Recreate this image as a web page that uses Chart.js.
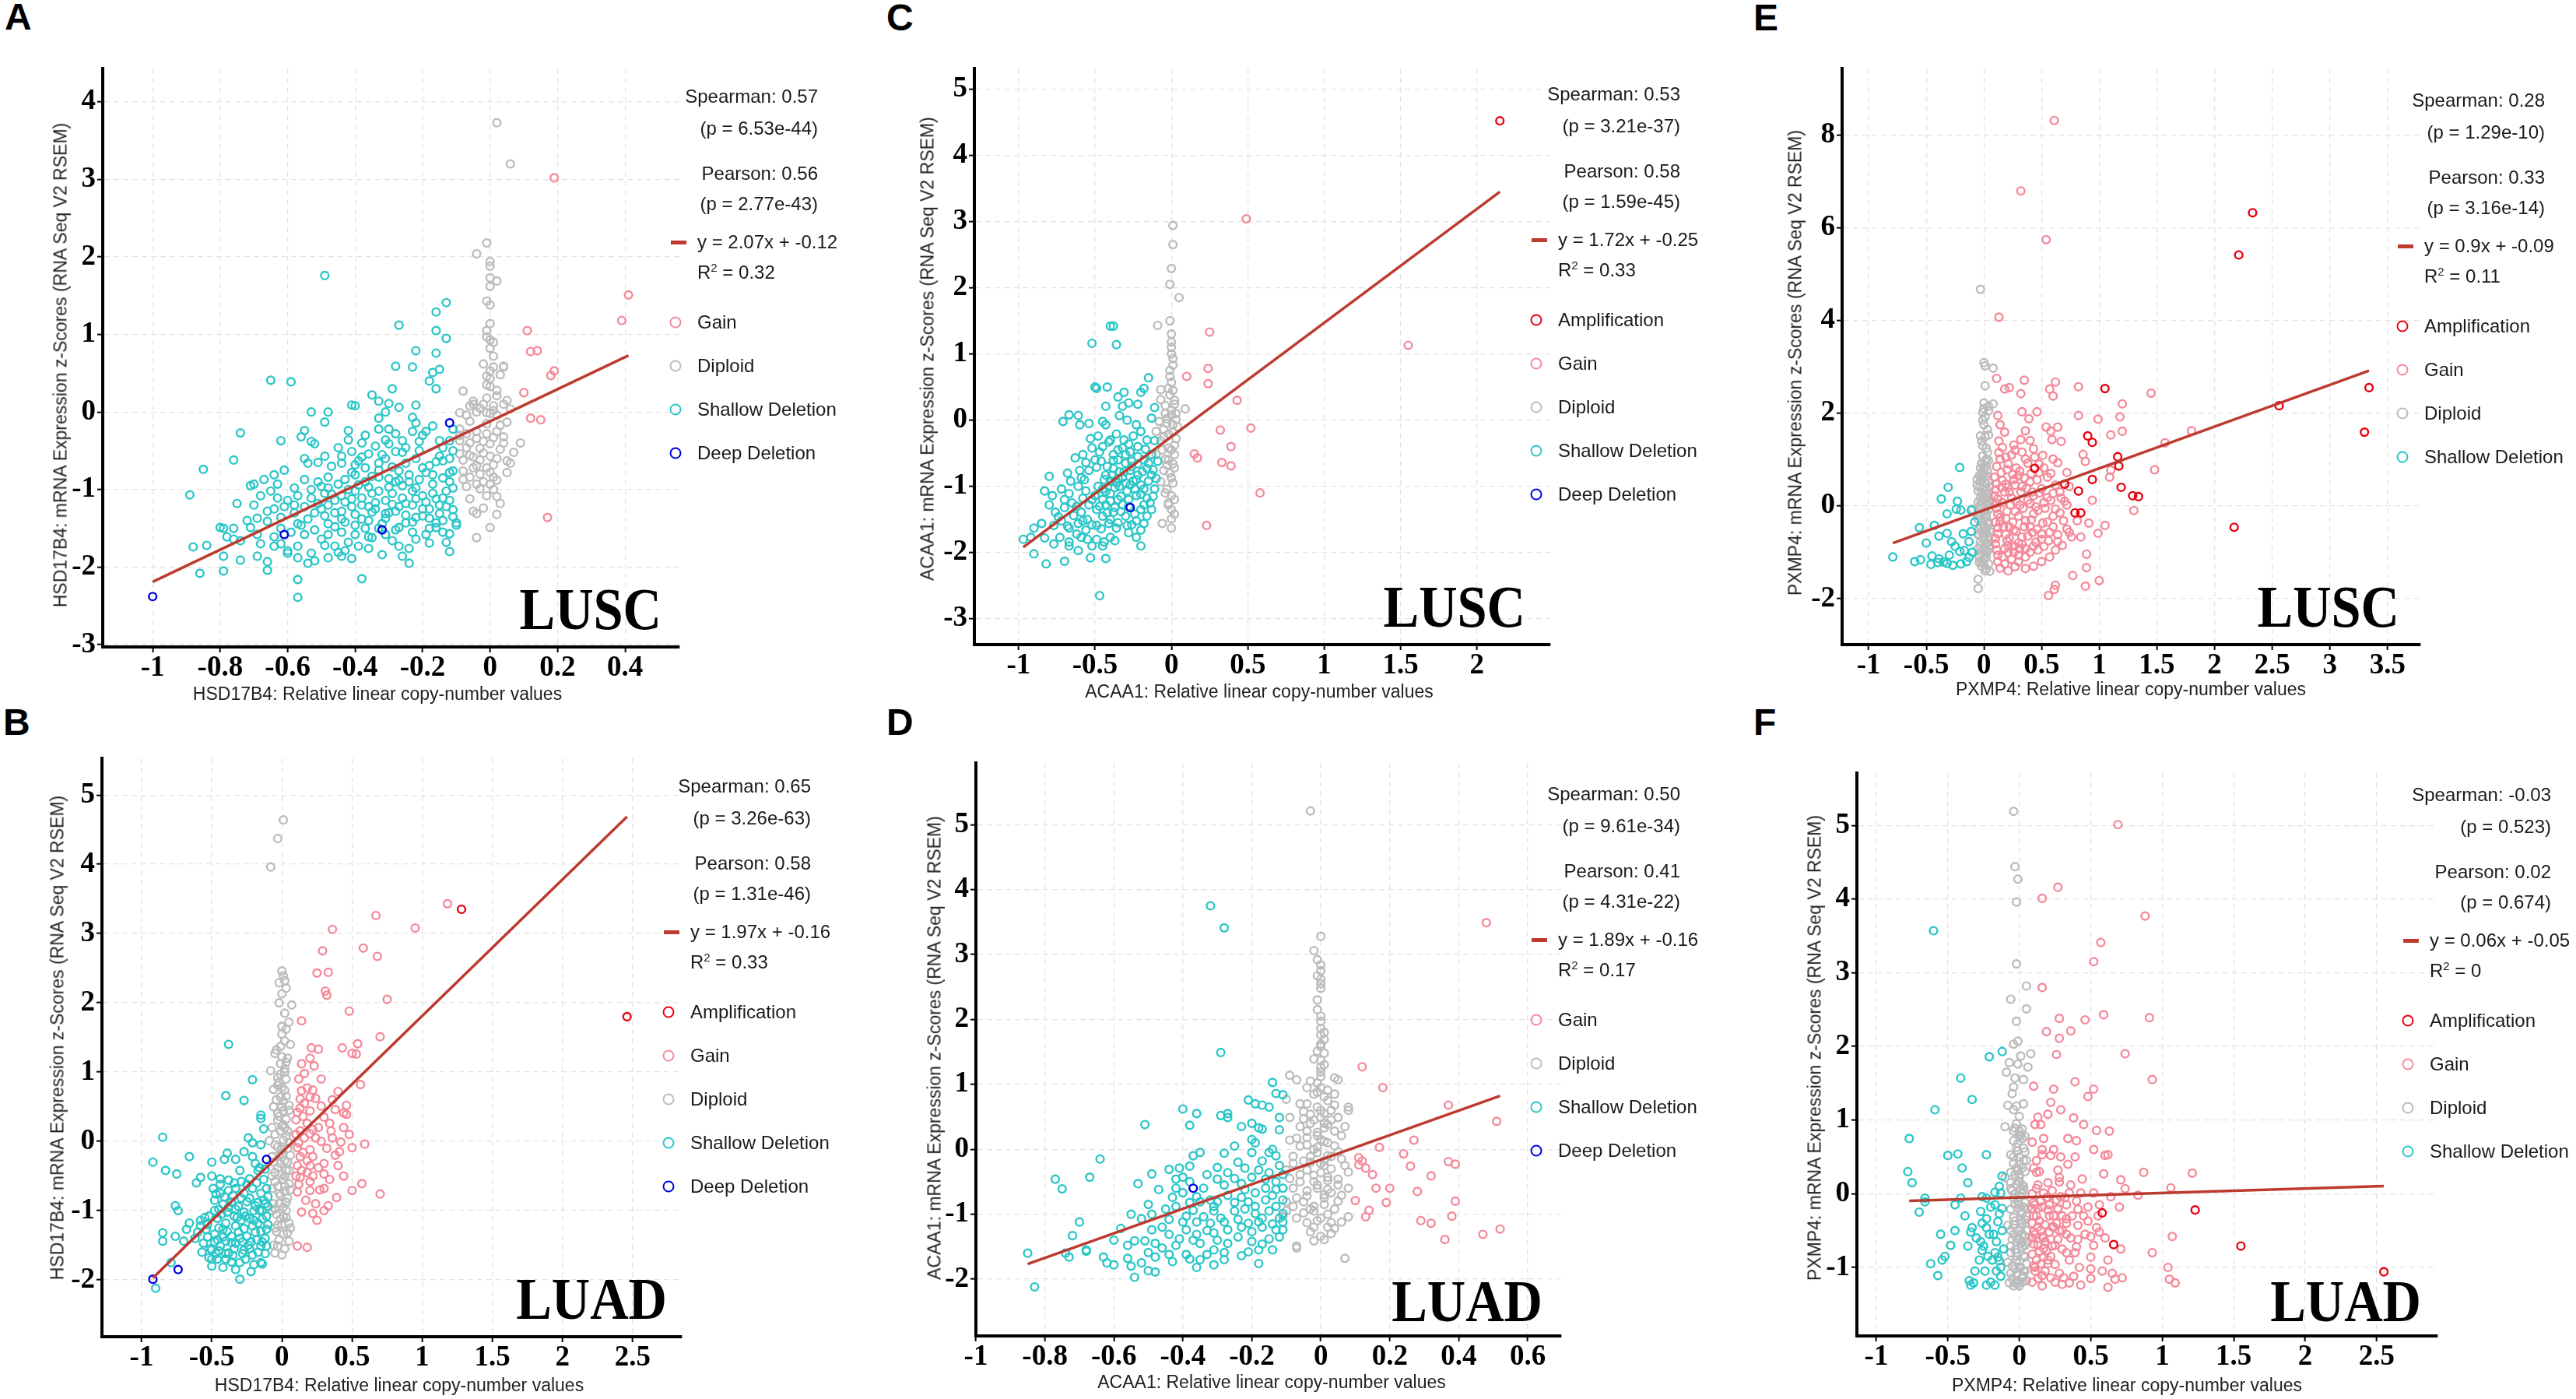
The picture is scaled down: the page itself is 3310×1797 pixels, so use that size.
<!DOCTYPE html>
<html lang="en">
<head>
<meta charset="UTF-8">
<title>Copy number vs mRNA expression</title>
<style>
  html, body { margin: 0; padding: 0; background: #fff; }
  body { width: 3310px; height: 1797px; position: relative; overflow: hidden;
         font-family: 'Liberation Sans', Arial, sans-serif; color: #1a1a1a; }
  canvas { position: absolute; }
  .txt { position: absolute; white-space: nowrap; line-height: 1; }
  .stat { font-size: 24px; transform: translate(-100%, -50%); }
  .lab { font-size: 24px; transform: translateY(-50%); }
  .atitle { font-size: 23px; color: #222; transform: translate(-50%, -50%); }
  .ytitle { transform: translate(-50%, -50%) rotate(-90deg); }
  .letter { font-size: 48px; font-weight: bold; color: #000; transform: translateY(-50%); }
  .tag { font-family: 'Liberation Serif', 'Times New Roman', serif; font-weight: bold; font-size: 76px;
         color: #000; transform: translateX(-100%) scaleX(0.9); transform-origin: right top; }
  .sup { font-size: 15px; position: relative; top: -9px; }
  .dot { position: absolute; width: 15px; height: 15px; border-radius: 50%; box-sizing: border-box;
         border: 2.7px solid; transform: translate(-50%, -50%); }
  .dash { position: absolute; width: 20px; height: 5px; }
</style>
</head>
<body>
<script src="https://cdn.jsdelivr.net/npm/chart.js"></script>
<script>
// ---- A: HSD17B4 / LUSC ----
const aGain = [[0.19,3.02],[0.41,1.51],[0.39,1.18],[0.11,1.05],[0.12,0.78],[0.14,0.79],[0.19,0.53],[0.18,0.47],[0.1,0.25],[0.12,-0.08],[0.15,-0.1],[0.17,-1.36]];
const aDiploid = [[0.02,3.73],[0.06,3.2],[-0.01,2.18],[-0.04,2.04],[0,1.94],[0,1.88],[0,1.73],[0.02,1.69],[0,1.62],[-0.01,1.43],[0,1.38],[0,1.14],[-0.01,0.97],[0,0.93],[0.01,0.9],[0,0.82],[0.01,0.58],[0,0.53],[0.04,0.59],[0.04,0.58],[-0.01,0.46],[0,0.43],[-0.08,0.27],[0,0.33],[0.02,0.21],[-0.05,0.14],[-0.06,0.08],[-0.05,0.1],[-0.02,0.1],[0.01,0.08],[0.04,0.1],[0.05,0.15],[-0.09,-0.01],[-0.07,-0.04],[-0.04,0],[-0.01,-0.01],[0.02,-0.04],[0.05,-0.13],[-0.09,-0.22],[-0.07,-0.28],[-0.04,-0.25],[-0.01,-0.28],[0.02,-0.25],[-0.09,-0.37],[-0.06,-0.4],[-0.02,-0.38],[0,-0.41],[0.04,-0.4],[0.09,-0.4],[-0.09,-0.54],[-0.06,-0.56],[-0.02,-0.53],[0,-0.57],[0.02,-0.6],[0.05,-0.63],[0.06,-0.66],[-0.04,-0.69],[-0.01,-0.72],[0,-0.78],[-0.08,-0.87],[-0.06,-0.84],[-0.02,-0.9],[0,-0.93],[-0.07,-0.96],[-0.03,-0.99],[-0.01,-1.08],[0.02,-1.09],[-0.05,-1.28],[-0.04,-1.31],[0,-1.49],[-0.04,-1.62],[-0.01,-0.15],[0.01,-0.33],[-0.03,-0.47],[0.01,-0.84],[-0.01,0.35],[0.01,0.02],[-0.03,-0.62],[0.01,-1.0]];
const aDiploidCore = [[-0.08,-0.62],[-0.05,-0.72],[-0.03,-0.8],[0.01,-0.68],[0.03,-0.48],[-0.07,-0.46],[-0.04,-0.34],[0.03,-0.17],[-0.06,-0.12],[-0.03,0.05],[0.02,0.28],[-0.02,0.62],[0.01,0.72],[-0.08,-0.76],[-0.04,-0.93],[0.02,-0.88],[-0.06,-1.12],[0.03,-1.18],[-0.02,-1.24],[0.04,-0.32],[0.07,-0.52],[-0.09,-0.3],[0.06,0.04],[-0.01,1.05],[0.03,0.48],[0.05,-0.78],[-0.05,-0.58],[0.0,-0.02],[-0.01,0.18],[0.02,-1.32]];
const aShallow = [[-0.49,1.76],[-0.13,1.41],[-0.16,1.29],[-0.27,1.12],[-0.16,1.05],[-0.13,0.95],[-0.22,0.79],[-0.16,0.76],[-0.28,0.59],[-0.23,0.58],[-0.15,0.55],[-0.17,0.51],[-0.18,0.4],[-0.16,0.3],[-0.65,0.41],[-0.59,0.39],[-0.29,0.3],[-0.35,0.22],[-0.33,0.14],[-0.3,0.11],[-0.41,0.09],[-0.4,0.08],[-0.27,0.06],[-0.22,0.09],[-0.53,0],[-0.48,0],[-0.33,-0.08],[-0.31,0],[-0.23,-0.07],[-0.22,-0.14],[-0.49,-0.13],[-0.55,-0.24],[-0.56,-0.32],[-0.74,-0.27],[-0.42,-0.24],[-0.33,-0.22],[-0.3,-0.22],[-0.23,-0.25],[-0.19,-0.25],[-0.62,-0.37],[-0.53,-0.38],[-0.52,-0.41],[-0.38,-0.4],[-0.34,-0.44],[-0.3,-0.41],[-0.26,-0.37],[-0.21,-0.38],[-0.15,-0.37],[-0.76,-0.62],[-0.85,-0.74],[-0.55,-0.6],[-0.54,-0.66],[-0.51,-0.65],[-0.49,-0.57],[-0.44,-0.57],[-0.41,-0.51],[-0.39,-0.63],[-0.36,-0.54],[-0.33,-0.66],[-0.31,-0.6],[-0.28,-0.51],[-0.25,-0.66],[-0.22,-0.6],[-0.18,-0.69],[-0.15,-0.57],[-0.14,-0.63],[-0.61,-0.75],[-0.64,-0.81],[-0.67,-0.87],[-0.7,-0.93],[-0.71,-0.95],[-0.63,-0.93],[-0.55,-0.87],[-0.51,-0.9],[-0.48,-0.84],[-0.45,-0.93],[-0.43,-0.87],[-0.4,-0.81],[-0.37,-0.9],[-0.33,-0.84],[-0.28,-0.9],[-0.24,-0.81],[-0.21,-0.87],[-0.17,-0.81],[-0.12,-0.78],[-0.12,-0.9],[-0.89,-1.07],[-0.68,-1.08],[-0.65,-1.02],[-0.63,-1.11],[-0.57,-1.08],[-0.53,-1.11],[-0.49,-1.05],[-0.46,-1.14],[-0.44,-1.08],[-0.4,-1.02],[-0.38,-1.11],[-0.35,-1.05],[-0.31,-1.14],[-0.29,-1.05],[-0.26,-1.11],[-0.23,-1.02],[-0.2,-1.08],[-0.17,-1.05],[-0.14,-1.11],[-0.12,-1.14],[-0.75,-1.18],[-0.64,-1.25],[-0.61,-1.22],[-0.58,-1.2],[-0.55,-1.22],[-0.5,-1.25],[-0.48,-1.2],[-0.44,-1.28],[-0.41,-1.22],[-0.38,-1.2],[-0.34,-1.25],[-0.31,-1.31],[-0.27,-1.22],[-0.23,-1.2],[-0.2,-1.25],[-0.15,-1.2],[-0.13,-1.22],[-0.69,-1.37],[-0.66,-1.41],[-0.62,-1.36],[-0.57,-1.44],[-0.54,-1.38],[-0.48,-1.44],[-0.44,-1.38],[-0.4,-1.46],[-0.36,-1.4],[-0.31,-1.37],[-0.25,-1.43],[-0.22,-1.36],[-0.18,-1.37],[-0.16,-1.43],[-0.14,-1.4],[-0.1,-1.43],[-0.8,-1.49],[-0.79,-1.5],[-0.76,-1.5],[-0.71,-1.49],[-0.78,-1.61],[-0.76,-1.64],[-0.74,-1.66],[-0.69,-1.58],[-0.64,-1.61],[-0.59,-1.55],[-0.55,-1.58],[-0.52,-1.52],[-0.48,-1.58],[-0.44,-1.55],[-0.4,-1.58],[-0.36,-1.61],[-0.31,-1.58],[-0.27,-1.49],[-0.23,-1.55],[-0.19,-1.58],[-0.16,-1.49],[-0.14,-1.55],[-0.1,-1.46],[-0.88,-1.74],[-0.84,-1.72],[-0.64,-1.73],[-0.6,-1.79],[-0.57,-1.73],[-0.53,-1.82],[-0.49,-1.72],[-0.46,-1.73],[-0.43,-1.79],[-0.39,-1.73],[-0.36,-1.76],[-0.27,-1.73],[-0.22,-1.64],[-0.18,-1.69],[-0.79,-1.86],[-0.69,-1.86],[-0.74,-1.91],[-0.6,-1.82],[-0.57,-1.88],[-0.48,-1.88],[-0.44,-1.86],[-0.41,-1.89],[-0.26,-1.86],[-0.12,-1.8],[-0.66,-1.93],[-0.54,-1.95],[-0.24,-1.95],[-0.86,-2.08],[-0.79,-2.05],[-0.66,-2.04],[-0.57,-2.16],[-0.38,-2.15],[-0.57,-2.39],[-0.12,-0.37],[-0.12,-0.6],[-0.11,-0.76],[-0.36,-0.97],[-0.42,-1.0],[-0.3,-0.97],[-0.26,-0.95],[-0.34,-1.17],[-0.4,-1.32],[-0.46,-1.3],[-0.52,-1.3],[-0.28,-1.28],[-0.32,-1.44],[-0.37,-1.5],[-0.47,-0.7],[-0.37,-0.72],[-0.27,-0.76],[-0.2,-0.72],[-0.58,-0.98],[-0.5,-0.96]];
const aShallowCore = [[-0.47,-1.06],[-0.43,-1.16],[-0.39,-0.94],[-0.35,-1.29],[-0.33,-1.02],[-0.29,-1.19],[-0.27,-0.88],[-0.25,-1.33],[-0.22,-0.98],[-0.19,-1.16],[-0.17,-0.93],[-0.15,-1.31],[-0.13,-1.02],[-0.11,-1.26],[-0.44,-0.66],[-0.41,-0.78],[-0.38,-0.58],[-0.35,-0.83],[-0.32,-0.55],[-0.29,-0.71],[-0.26,-0.52],[-0.24,-0.9],[-0.21,-0.5],[-0.19,-0.78],[-0.16,-0.64],[-0.14,-0.85],[-0.53,-1.0],[-0.51,-1.18],[-0.49,-1.34],[-0.46,-1.48],[-0.43,-1.42],[-0.41,-1.12],[-0.38,-1.38],[-0.36,-1.22],[-0.33,-1.5],[-0.3,-1.3],[-0.28,-1.52],[-0.25,-1.18],[-0.23,-1.42],[-0.2,-1.34],[-0.18,-1.5],[-0.6,-1.14],[-0.58,-1.3],[-0.56,-1.46],[-0.62,-1.5],[-0.66,-1.28],[-0.7,-1.2],[-0.72,-1.4],[-0.45,-0.46],[-0.42,-0.36],[-0.37,-0.3],[-0.31,-0.36],[-0.28,-0.28],[-0.25,-0.46],[-0.2,-0.3],[-0.17,-0.18],[-0.14,-0.46],[-0.35,-1.62],[-0.42,-1.68],[-0.5,-1.64],[-0.29,-1.66],[-0.24,-1.76],[-0.32,-1.84],[-0.45,-1.81],[-0.52,-1.92],[-0.62,-1.7],[-0.68,-1.7],[-0.11,-0.98],[-0.11,-1.35],[-0.11,-0.5],[-0.11,-0.22],[-0.12,-1.57],[-0.13,-1.68],[-0.4,-0.68],[-0.33,-0.75],[-0.3,-0.86],[-0.22,-1.12],[-0.18,-1.25],[-0.16,-1.12],[-0.48,-0.98]];
const aDeep = [[-1.0,-2.38],[-0.61,-1.58],[-0.32,-1.52],[-0.12,-0.14]];
const aFit = [2.07, -0.12, -1.0, 0.41];
const aStats = ['Spearman: 0.57', '(p = 6.53e-44)', 'Pearson: 0.56', '(p = 2.77e-43)', 'y = 2.07x + -0.12', '0.32'];
const aXTicks = [-1, -0.8, -0.6, -0.4, -0.2, 0, 0.2, 0.4];
const aYTicks = [-3, -2, -1, 0, 1, 2, 3, 4];
const aXRange = [-1.148, 0.561];
const aYRange = [-3.03, 4.43];

// ---- B: HSD17B4 / LUAD ----
const bAmp = [[1.28,3.35],[2.46,1.8]];
const bGain = [[1.18,3.43],[0.67,3.26],[0.95,3.08],[0.36,3.06],[0.29,2.75],[0.58,2.79],[0.68,2.67],[0.25,2.43],[0.33,2.44],[0.31,2.17],[0.32,2.11],[0.75,2.05],[0.48,1.88],[0.14,1.74],[0.7,1.51],[0.21,1.35],[0.26,1.33],[0.43,1.35],[0.54,1.41],[0.5,1.27],[0.53,1.26],[0.2,1.2],[0.14,1.12],[0.23,1.09],[0.56,0.82],[0.14,0.73],[0.18,0.77],[0.22,0.74],[0.4,0.72],[0.13,0.61],[0.2,0.64],[0.46,0.52],[0.13,0.48],[0.2,0.44],[0.28,0.51],[0.38,0.46],[0.44,0.41],[0.46,0.39],[0.1,0.31],[0.18,0.26],[0.34,0.26],[0.13,0.15],[0.2,0.11],[0.16,0.05],[0.22,0.17],[0.28,0],[0.36,0.05],[0.42,-0.01],[0.5,-0.09],[0.59,-0.04],[0.11,-0.09],[0.2,-0.12],[0.13,-0.22],[0.22,-0.22],[0.18,-0.28],[0.41,-0.15],[0.4,-0.35],[0.3,-0.32],[0.11,-0.35],[0.14,-0.42],[0.18,-0.45],[0.13,-0.52],[0.3,-0.47],[0.2,-0.58],[0.2,-0.71],[0.11,-0.73],[0.3,-0.68],[0.5,-0.71],[0.57,-0.61],[0.7,-0.76],[0.39,-0.81],[0.33,-0.93],[0.14,-1.02],[0.22,-1.04],[0.25,-1.14],[0.11,-1.51],[0.18,-1.53]];
const bGainCore = [[0.12,0.9],[0.16,0.55],[0.24,0.62],[0.3,0.35],[0.35,0.15],[0.15,0.36],[0.26,0.2],[0.12,-0.02],[0.24,0.05],[0.32,-0.1],[0.15,-0.16],[0.26,-0.38],[0.34,-0.55],[0.12,-0.62],[0.17,-0.85],[0.24,-0.9],[0.3,-1.0],[0.44,-0.5],[0.38,-0.2],[0.16,0.98],[0.28,0.9],[0.36,0.6],[0.48,0.1],[0.44,0.2],[0.1,0.1],[0.1,-0.5],[0.11,0.42],[0.2,-0.35],[0.22,-0.5],[0.27,-0.7]];
const bDiploid = [[0.01,4.64],[-0.03,4.37],[-0.08,3.96],[0,2.46],[0.01,2.39],[0.02,2.32],[-0.02,2.29],[0.03,2.21],[0,2.13],[0.07,1.97],[0,1.66],[0.03,1.62],[0.06,1.4],[-0.01,1.37],[-0.05,1.27],[0,1.22],[0.03,1.14],[-0.08,1.02],[-0.01,0.97],[0.03,0.9],[-0.03,0.81],[0.02,0.74],[-0.01,0.64],[-0.06,0.5],[0.01,0.44],[0.05,0.52],[-0.03,0.31],[0.01,0.24],[-0.01,0.15],[0.03,0.08],[-0.09,0.01],[-0.05,-0.05],[0,-0.12],[0.05,-0.02],[-0.07,-0.22],[-0.01,-0.32],[0.03,-0.42],[-0.05,-0.45],[0.01,-0.55],[0.05,-0.61],[-0.07,-0.68],[-0.01,-0.78],[0.03,-0.88],[-0.05,-0.98],[0.01,-1.08],[0.05,-1.18],[-0.03,-1.21],[0.01,-1.34],[0.05,-1.44],[-0.03,-1.51],[0,-1.64],[-0.05,-1.61],[0.01,0.58],[-0.02,0.36],[0.02,0.2],[-0.02,-0.2],[0.02,-0.5],[-0.03,-0.65],[0.02,-0.72],[-0.02,-0.9],[0.03,-1.0],[-0.01,-1.12],[0.02,1.05],[-0.02,0.85],[0.04,-0.3],[-0.04,-1.3]];
const bDiploidCore = [[-0.06,-1.5],[0.02,-1.55],[-0.02,-1.42],[0.04,-1.32],[-0.05,-1.25],[0.0,-1.2],[0.03,-1.1],[-0.04,-1.05],[0.01,-0.95],[-0.06,-0.9],[0.04,-0.82],[-0.02,-0.75],[0.02,-0.65],[-0.05,-0.58],[0.0,-0.48],[0.05,-0.42],[-0.03,-0.38],[0.02,-0.28],[-0.06,-0.3],[0.0,-0.18],[0.04,-0.1],[-0.03,-0.08],[0.01,0.02],[-0.05,0.1],[0.04,0.15],[0.0,0.22],[-0.03,0.4],[0.03,0.32],[0.0,0.5],[-0.04,0.6],[0.03,0.65],[0.0,0.78],[-0.03,0.92],[0.02,1.0],[-0.01,1.12],[0.04,1.2],[-0.04,1.32],[0.02,1.45],[0.0,1.55],[0.05,1.72],[0.02,1.85],[-0.02,2.0],[0.06,-0.7],[-0.07,-1.0],[0.06,-1.25],[-0.07,-0.5],[0.06,-0.2],[-0.07,0.2],[0.05,0.45],[-0.06,0.75]];
const bShallow = [[-0.38,1.4],[-0.21,0.89],[-0.4,0.66],[-0.27,0.59],[-0.15,0.38],[-0.15,0.33],[-0.13,0.18],[-0.85,0.06],[-0.24,0.05],[-0.21,-0.02],[-0.15,-0.05],[-0.92,-0.3],[-0.66,-0.22],[-0.39,-0.17],[-0.41,-0.26],[-0.33,-0.26],[-0.27,-0.15],[-0.21,-0.22],[-0.5,-0.3],[-0.83,-0.42],[-0.75,-0.47],[-0.58,-0.52],[-0.61,-0.6],[-0.5,-0.5],[-0.44,-0.54],[-0.38,-0.56],[-0.29,-0.58],[-0.23,-0.54],[-0.17,-0.42],[-0.16,-0.38],[-0.49,-0.68],[-0.44,-0.75],[-0.38,-0.71],[-0.33,-0.68],[-0.27,-0.75],[-0.21,-0.68],[-0.15,-0.75],[-0.11,-0.68],[-0.76,-0.93],[-0.74,-1.0],[-0.48,-0.85],[-0.42,-0.91],[-0.36,-0.88],[-0.31,-0.94],[-0.25,-0.87],[-0.19,-0.93],[-0.13,-0.85],[-0.1,-0.94],[-0.66,-1.18],[-0.58,-1.14],[-0.52,-1.08],[-0.46,-1.11],[-0.4,-1.18],[-0.34,-1.08],[-0.29,-1.14],[-0.23,-1.11],[-0.17,-1.18],[-0.11,-1.08],[-0.68,-1.27],[-0.85,-1.32],[-0.85,-1.44],[-0.76,-1.37],[-0.7,-1.44],[-0.6,-1.31],[-0.54,-1.27],[-0.48,-1.34],[-0.42,-1.27],[-0.36,-1.37],[-0.31,-1.31],[-0.25,-1.37],[-0.19,-1.31],[-0.11,-1.27],[-0.56,-1.47],[-0.5,-1.57],[-0.44,-1.51],[-0.38,-1.61],[-0.33,-1.47],[-0.27,-1.57],[-0.21,-1.64],[-0.15,-1.51],[-0.11,-1.51],[-0.5,-1.7],[-0.4,-1.7],[-0.3,-1.75],[-0.15,-1.75],[-0.14,-1.77],[-0.5,-1.8],[-0.79,-1.75],[-0.3,-1.99],[-0.9,-2.12],[-0.45,-0.98],[-0.39,-1.02],[-0.33,-0.98],[-0.27,-1.02],[-0.2,-1.0],[-0.14,-1.0],[-0.46,-1.42],[-0.4,-1.44],[-0.34,-1.55],[-0.28,-1.45],[-0.22,-1.45],[-0.53,-1.2],[-0.47,-1.62]];
const bShallowCore = [[-0.48,-1.0],[-0.43,-1.05],[-0.38,-0.95],[-0.32,-1.1],[-0.26,-1.08],[-0.2,-1.14],[-0.14,-1.12],[-0.12,-0.9],[-0.17,-0.88],[-0.23,-0.82],[-0.29,-0.82],[-0.35,-0.78],[-0.41,-0.8],[-0.47,-0.76],[-0.45,-1.25],[-0.39,-1.3],[-0.33,-1.22],[-0.27,-1.26],[-0.21,-1.22],[-0.15,-1.3],[-0.12,-1.4],[-0.18,-1.42],[-0.24,-1.5],[-0.3,-1.4],[-0.36,-1.46],[-0.42,-1.38],[-0.48,-1.45],[-0.53,-1.38],[-0.51,-1.55],[-0.45,-1.58],[-0.4,-1.62],[-0.35,-1.65],[-0.28,-1.62],[-0.23,-1.55],[-0.17,-1.6],[-0.12,-1.62],[-0.46,-1.7],[-0.36,-1.74],[-0.26,-1.7],[-0.2,-1.78],[-0.44,-0.62],[-0.34,-0.6],[-0.25,-0.62],[-0.18,-0.6],[-0.13,-0.55],[-0.12,-0.4],[-0.19,-0.32],[-0.3,-0.42],[-0.1,-1.2],[-0.1,-0.8],[-0.55,-1.1],[-0.58,-1.22],[-0.62,-1.4],[-0.57,-1.6],[-0.52,-1.68],[-0.42,-1.82],[-0.33,-1.85],[-0.22,-1.88],[-0.14,-1.45],[-0.16,-1.0]];
const bDeep = [[-0.92,-1.99],[-0.74,-1.85],[-0.11,-0.26]];
const bFit = [1.97, -0.16, -0.92, 2.46];
const bStats = ['Spearman: 0.65', '(p = 3.26e-63)', 'Pearson: 0.58', '(p = 1.31e-46)', 'y = 1.97x + -0.16', '0.33'];
const bXTicks = [-1, -0.5, 0, 0.5, 1, 1.5, 2, 2.5];
const bYTicks = [-2, -1, 0, 1, 2, 3, 4, 5];
const bXRange = [-1.283, 2.85];
const bYRange = [-2.82, 5.53];

// ---- C: ACAA1 / LUSC ----
const cAmp = [[2.15,4.52]];
const cGain = [[0.49,3.04],[0.25,1.33],[1.55,1.13],[0.24,0.78],[0.1,0.66],[0.24,0.55],[0.43,0.3],[0.32,-0.15],[0.52,-0.12],[0.39,-0.4],[0.15,-0.51],[0.17,-0.57],[0.33,-0.64],[0.39,-0.69],[0.58,-1.1],[0.23,-1.59]];
const cDiploid = [[0.01,2.94],[0.01,2.65],[0,2.29],[-0.01,2.05],[0.05,1.85],[-0.01,1.5],[-0.09,1.43],[0,1.3],[0,1.18],[0,1.0],[0.01,0.93],[0.01,0.83],[-0.01,0.66],[0,0.57],[-0.02,0.48],[-0.07,0.46],[-0.07,0.31],[-0.01,0.38],[0.02,0.24],[0,0.15],[0.09,0.17],[-0.04,0.1],[0.03,0.01],[0.01,-0.07],[-0.05,-0.14],[-0.02,-0.21],[-0.1,-0.17],[-0.07,-0.31],[-0.02,-0.42],[0.02,-0.52],[-0.04,-0.59],[0.01,-0.66],[-0.1,-0.52],[0.02,-0.38],[-0.05,-0.76],[0,-0.87],[-0.07,-0.93],[-0.03,-1.04],[0,-1.14],[-0.02,-1.28],[0,-1.35],[-0.06,-1.56],[0,-1.49],[0,-1.63],[0.02,0.3],[-0.03,0.02],[0.03,-0.28],[-0.01,-0.8],[0.02,-1.2]];
const cDiploidCore = [[0.0,-0.45],[-0.02,-0.6],[0.01,-0.95],[-0.04,-1.1],[0.02,-1.42],[-0.05,-0.25],[-0.03,-0.05],[0.01,0.45],[-0.01,0.75],[0.03,0.1],[-0.06,-0.45],[0.01,-0.18],[-0.02,-1.25],[0.0,0.08],[-0.04,0.22],[0.02,-0.72],[-0.08,-0.02],[0.04,-0.1],[-0.03,-0.68],[0.0,1.1]];
const cShallow = [[-0.4,1.42],[-0.38,1.42],[-0.52,1.16],[-0.36,1.14],[-0.15,0.64],[-0.5,0.5],[-0.49,0.48],[-0.42,0.5],[-0.2,0.42],[-0.18,0.48],[-0.31,0.42],[-0.35,0.35],[-0.28,0.26],[-0.43,0.21],[-0.32,0.21],[-0.22,0.24],[-0.11,0.19],[-0.71,-0.02],[-0.67,0.08],[-0.61,0.07],[-0.6,-0.07],[-0.54,-0.05],[-0.45,-0.02],[-0.43,-0.07],[-0.34,0.07],[-0.29,0],[-0.23,-0.07],[-0.13,0.03],[-0.53,-0.28],[-0.48,-0.24],[-0.41,-0.33],[-0.36,-0.21],[-0.31,-0.3],[-0.25,-0.24],[-0.2,-0.17],[-0.16,-0.3],[-0.11,-0.31],[-0.63,-0.57],[-0.58,-0.52],[-0.52,-0.42],[-0.47,-0.48],[-0.38,-0.52],[-0.32,-0.42],[-0.27,-0.48],[-0.22,-0.55],[-0.17,-0.44],[-0.13,-0.52],[-0.09,-0.62],[-0.8,-0.85],[-0.68,-0.8],[-0.66,-0.92],[-0.59,-0.87],[-0.54,-0.76],[-0.49,-0.71],[-0.43,-0.83],[-0.38,-0.73],[-0.32,-0.87],[-0.27,-0.76],[-0.22,-0.83],[-0.16,-0.73],[-0.13,-0.83],[-0.83,-1.07],[-0.78,-1.14],[-0.72,-1.04],[-0.67,-1.11],[-0.61,-1.0],[-0.56,-1.07],[-0.5,-1.14],[-0.45,-1.04],[-0.4,-1.11],[-0.34,-1.0],[-0.29,-1.07],[-0.23,-1.14],[-0.18,-1.04],[-0.11,-1.04],[-0.8,-1.28],[-0.76,-1.39],[-0.7,-1.32],[-0.65,-1.25],[-0.59,-1.39],[-0.54,-1.28],[-0.49,-1.35],[-0.43,-1.28],[-0.38,-1.39],[-0.32,-1.28],[-0.2,-1.35],[-0.14,-1.25],[-0.13,-1.35],[-0.9,-1.63],[-0.85,-1.56],[-0.77,-1.59],[-0.72,-1.52],[-0.67,-1.63],[-0.61,-1.56],[-0.56,-1.66],[-0.49,-1.59],[-0.41,-1.56],[-0.36,-1.63],[-0.29,-1.59],[-0.23,-1.52],[-0.18,-1.56],[-0.97,-1.8],[-0.92,-1.77],[-0.83,-1.78],[-0.73,-1.77],[-0.67,-1.84],[-0.59,-1.77],[-0.49,-1.8],[-0.4,-1.77],[-0.28,-1.7],[-0.23,-1.77],[-0.9,-2.02],[-0.77,-1.87],[-0.67,-1.9],[-0.61,-1.97],[-0.52,-1.9],[-0.44,-1.84],[-0.37,-1.82],[-0.2,-1.9],[-0.82,-2.17],[-0.7,-2.13],[-0.53,-2.08],[-0.43,-2.09],[-0.47,-2.65],[-0.35,-0.6],[-0.3,-0.65],[-0.4,-0.92],[-0.36,-0.95],[-0.3,-0.95],[-0.25,-0.92],[-0.45,-1.2],[-0.4,-1.22],[-0.35,-1.2],[-0.3,-1.45],[-0.45,-1.45],[-0.5,-0.6],[-0.26,-0.62],[-0.2,-0.98],[-0.55,-1.5]];
const cShallowCore = [[-0.46,-0.62],[-0.42,-0.7],[-0.38,-0.61],[-0.34,-0.78],[-0.3,-0.52],[-0.26,-0.7],[-0.22,-0.66],[-0.18,-0.6],[-0.44,-0.9],[-0.39,-0.83],[-0.35,-0.88],[-0.31,-0.78],[-0.27,-0.98],[-0.23,-0.9],[-0.19,-0.78],[-0.15,-0.92],[-0.48,-1.0],[-0.43,-1.08],[-0.37,-1.02],[-0.33,-1.15],[-0.28,-1.2],[-0.24,-1.04],[-0.2,-1.12],[-0.16,-1.18],[-0.52,-1.2],[-0.47,-1.3],[-0.42,-1.4],[-0.37,-1.32],[-0.33,-1.38],[-0.28,-1.3],[-0.24,-1.42],[-0.18,-1.28],[-0.58,-1.18],[-0.62,-1.3],[-0.64,-1.44],[-0.58,-1.52],[-0.52,-1.58],[-0.46,-1.64],[-0.4,-1.5],[-0.35,-1.55],[-0.26,-1.58],[-0.2,-1.66],[-0.57,-0.9],[-0.6,-0.76],[-0.56,-0.64],[-0.45,-0.4],[-0.4,-0.3],[-0.35,-0.45],[-0.28,-0.36],[-0.22,-0.4],[-0.15,-0.65],[-0.12,-0.75],[-0.1,-0.88],[-0.12,-1.15],[-0.16,-1.45],[-0.7,-1.2],[-0.74,-1.46],[-0.68,-1.6],[-0.62,-1.72],[-0.55,-1.8],[-0.45,-1.9]];
const cDeep = [[-0.27,-1.32]];
const cFit = [1.72, -0.25, -0.97, 2.15];
const cStats = ['Spearman: 0.53', '(p = 3.21e-37)', 'Pearson: 0.58', '(p = 1.59e-45)', 'y = 1.72x + -0.25', '0.33'];
const cXTicks = [-1, -0.5, 0, 0.5, 1, 1.5, 2];
const cYTicks = [-3, -2, -1, 0, 1, 2, 3, 4, 5];
const cXRange = [-1.29, 2.48];
const cYRange = [-3.39, 5.31];

// ---- D: ACAA1 / LUAD ----
const dGain = [[0.48,3.49],[0.12,1.27],[0.18,0.95],[0.37,0.68],[0.51,0.43],[0.27,0.14],[0.17,0.03],[0.24,-0.07],[0.26,-0.26],[0.11,-0.13],[0.12,-0.18],[0.11,-0.24],[0.13,-0.29],[0.15,-0.39],[0.32,-0.41],[0.37,-0.19],[0.39,-0.23],[0.16,-0.6],[0.2,-0.6],[0.28,-0.65],[0.1,-0.79],[0.19,-0.82],[0.39,-0.8],[0.14,-0.94],[0.13,-1.04],[0.38,-1.03],[0.29,-1.1],[0.32,-1.14],[0.47,-1.31],[0.52,-1.23],[0.36,-1.39]];
const dDiploid = [[-0.03,5.21],[0,3.28],[-0.02,3.06],[-0.01,2.92],[0,2.84],[0,2.75],[-0.01,2.67],[0,2.55],[0,2.48],[-0.01,2.15],[0,1.97],[0,1.86],[0,1.76],[0.01,1.69],[0,1.62],[-0.01,1.51],[0.01,1.48],[0,1.37],[-0.02,1.39],[0,1.26],[0,1.19],[-0.09,1.14],[-0.07,1.07],[0,1.12],[-0.03,1.05],[-0.04,0.95],[0.04,1.1],[0.05,1.07],[0.02,0.91],[-0.01,0.88],[0.01,0.81],[-0.1,0.77],[-0.06,0.7],[-0.04,0.7],[0.04,0.68],[0.08,0.65],[0.08,0.6],[-0.09,0.49],[-0.05,0.47],[-0.03,0.54],[0,0.49],[0.03,0.45],[0.05,0.49],[-0.06,0.35],[-0.04,0.28],[0.01,0.33],[0.04,0.28],[-0.01,0.21],[0.06,0.21],[-0.09,0.14],[-0.07,0.17],[-0.04,0.07],[-0.01,0.03],[0.02,0.1],[0.05,-0.04],[-0.08,-0.11],[-0.05,-0.18],[-0.03,-0.11],[0.01,-0.18],[0.03,-0.11],[0.07,-0.25],[-0.1,-0.32],[-0.06,-0.39],[-0.04,-0.32],[0,-0.36],[0.02,-0.43],[0.05,-0.46],[-0.11,-0.6],[-0.08,-0.6],[-0.04,-0.64],[-0.01,-0.6],[0.03,-0.67],[0.06,-0.71],[0.08,-0.6],[-0.1,-0.81],[-0.08,-0.88],[-0.05,-0.81],[-0.03,-0.92],[0.01,-0.85],[0.04,-0.92],[-0.11,-1.03],[-0.07,-1.06],[-0.04,-1.13],[0,-1.06],[0.03,-1.13],[0.08,-1.04],[0.04,-1.22],[-0.03,-1.27],[0,-1.34],[-0.02,-1.41],[0.01,-1.39],[-0.07,-1.49],[-0.07,-1.52],[0.07,-1.68],[0,0.6],[0.01,0.4],[-0.01,-0.05],[0.01,-0.25],[-0.02,-0.5],[0.01,-0.75],[-0.02,-0.95],[0.02,-1.2],[0,0.15],[-0.02,0.85]];
const dDiploidCore = [[-0.01,-1.1],[0.02,-1.0],[-0.02,-0.88],[0.01,-0.7],[-0.01,-0.55],[0.02,-0.48],[-0.02,-0.4],[0.0,-0.22],[0.02,-0.1],[-0.02,0.0],[0.01,0.12],[-0.01,0.26],[0.02,0.38],[-0.02,0.45],[0.01,0.55],[-0.01,0.65],[0.02,0.75],[0.0,0.95],[-0.01,1.02],[0.01,1.3],[0.0,1.58],[0.01,1.8],[0.0,2.05],[-0.01,2.3],[0.0,2.62],[-0.06,-0.5],[0.05,-0.55],[-0.07,-0.75],[0.05,-0.8],[-0.05,-0.98],[0.06,-1.12],[-0.08,-0.22],[0.06,-0.15],[-0.06,0.05],[0.07,0.35],[-0.05,0.58],[0.04,0.85],[-0.03,0.4],[0.03,0.6],[-0.04,-0.72],[0.03,-0.3],[-0.03,-0.2],[0.04,0.05],[-0.02,-1.2],[0.03,-1.3],[-0.09,-0.45],[-0.1,-0.95],[0.08,-0.35],[-0.04,0.18],[0.02,-0.62]];
const dShallow = [[-0.32,3.75],[-0.28,3.41],[-0.29,1.49],[-0.14,1.03],[-0.13,0.86],[-0.11,0.84],[-0.21,0.76],[-0.19,0.7],[-0.17,0.68],[-0.15,0.65],[-0.4,0.62],[-0.36,0.55],[-0.29,0.52],[-0.27,0.55],[-0.27,0.49],[-0.51,0.38],[-0.38,0.37],[-0.23,0.35],[-0.18,0.33],[-0.17,0.31],[-0.12,0.49],[-0.12,0.3],[-0.2,0.15],[-0.19,0.1],[-0.64,-0.15],[-0.37,-0.1],[-0.35,-0.05],[-0.28,-0.06],[-0.2,-0.05],[-0.14,0],[-0.13,-0.1],[-0.77,-0.46],[-0.75,-0.61],[-0.67,-0.43],[-0.53,-0.53],[-0.49,-0.38],[-0.44,-0.31],[-0.41,-0.29],[-0.38,-0.26],[-0.42,-0.46],[-0.4,-0.43],[-0.38,-0.5],[-0.33,-0.39],[-0.3,-0.46],[-0.27,-0.36],[-0.25,-0.45],[-0.23,-0.53],[-0.22,-0.29],[-0.2,-0.43],[-0.18,-0.32],[-0.16,-0.46],[-0.15,-0.36],[-0.13,-0.5],[-0.11,-0.39],[-0.43,-0.74],[-0.4,-0.67],[-0.36,-0.73],[-0.35,-0.81],[-0.32,-0.78],[-0.3,-0.81],[-0.27,-0.71],[-0.23,-0.74],[-0.21,-0.81],[-0.19,-0.67],[-0.16,-0.78],[-0.14,-0.71],[-0.11,-0.78],[-0.7,-1.12],[-0.72,-1.33],[-0.52,-1.07],[-0.49,-1.0],[-0.45,-0.92],[-0.44,-1.08],[-0.42,-0.88],[-0.39,-1.03],[-0.37,-0.94],[-0.34,-1.04],[-0.31,-0.95],[-0.29,-1.06],[-0.25,-0.95],[-0.22,-0.92],[-0.19,-0.99],[-0.17,-1.06],[-0.15,-0.95],[-0.12,-1.06],[-0.11,-0.99],[-0.49,-1.24],[-0.44,-1.31],[-0.39,-1.24],[-0.36,-1.31],[-0.33,-1.25],[-0.31,-1.29],[-0.27,-1.24],[-0.23,-1.2],[-0.2,-1.27],[-0.17,-1.2],[-0.13,-1.24],[-0.11,-1.24],[-0.56,-1.48],[-0.54,-1.41],[-0.51,-1.41],[-0.48,-1.45],[-0.46,-1.52],[-0.42,-1.48],[-0.35,-1.45],[-0.31,-1.55],[-0.27,-1.45],[-0.17,-1.46],[-0.14,-1.55],[-0.5,-1.59],[-0.48,-1.66],[-0.39,-1.62],[-0.38,-1.69],[-0.33,-1.62],[-0.28,-1.59],[-0.23,-1.64],[-0.18,-1.55],[-0.85,-1.6],[-0.74,-1.6],[-0.73,-1.66],[-0.68,-1.55],[-0.68,-1.57],[-0.63,-1.66],[-0.62,-1.75],[-0.6,-1.78],[-0.56,-1.68],[-0.55,-1.8],[-0.52,-1.75],[-0.5,-1.87],[-0.48,-1.89],[-0.43,-1.73],[-0.36,-1.82],[-0.31,-1.78],[-0.18,-1.76],[-0.54,-1.97],[-0.83,-2.12]];
const dShallowCore = [[-0.42,-0.6],[-0.38,-0.82],[-0.34,-0.6],[-0.31,-0.88],[-0.28,-0.55],[-0.25,-0.82],[-0.22,-0.62],[-0.19,-0.88],[-0.16,-0.6],[-0.13,-0.88],[-0.4,-1.12],[-0.36,-1.12],[-0.32,-1.14],[-0.28,-1.12],[-0.24,-1.08],[-0.21,-1.14],[-0.18,-1.12],[-0.14,-1.15],[-0.11,-1.12],[-0.11,-0.6],[-0.12,-0.25],[-0.17,-0.18],[-0.24,-0.2],[-0.3,-0.28],[-0.46,-1.2],[-0.41,-1.38],[-0.37,-1.4],[-0.3,-1.4],[-0.24,-1.35],[-0.2,-1.42],[-0.15,-1.38],[-0.47,-0.62],[-0.5,-0.85],[-0.55,-1.0],[-0.58,-1.22],[-0.6,-1.4],[-0.35,-1.7],[-0.28,-1.7],[-0.44,-1.62],[-0.21,-1.58],[-0.13,-0.62],[-0.15,-0.05],[-0.2,0.4],[-0.25,0.05],[-0.12,-1.35]];
const dDeep = [[-0.37,-0.6]];
const dFit = [1.89, -0.16, -0.85, 0.52];
const dStats = ['Spearman: 0.50', '(p = 9.61e-34)', 'Pearson: 0.41', '(p = 4.31e-22)', 'y = 1.89x + -0.16', '0.17'];
const dXTicks = [-1, -0.8, -0.6, -0.4, -0.2, 0, 0.2, 0.4, 0.6];
const dYTicks = [-2, -1, 0, 1, 2, 3, 4, 5];
const dXRange = [-1.0, 0.697];
const dYRange = [-2.875, 5.95];

// ---- E: PXMP4 / LUSC ----
const eAmp = [[2.33,6.32],[2.21,5.41],[3.34,2.55],[2.56,2.16],[3.3,1.59],[1.05,2.53],[0.9,1.51],[0.94,1.37],[1.16,1.06],[1.17,0.86],[0.44,0.81],[0.94,0.57],[0.7,0.47],[1.19,0.4],[0.82,0.32],[1.29,0.22],[1.34,0.2],[0.79,-0.15],[0.84,-0.15],[2.17,-0.46]];
const eGain = [[0.61,8.31],[0.32,6.79],[0.54,5.74],[0.13,4.07],[0.11,2.75],[0.35,2.71],[0.62,2.67],[0.82,2.57],[0.18,2.52],[0.22,2.55],[0.57,2.52],[0.6,2.37],[0.32,2.42],[1.45,2.43],[1.2,2.2],[0.33,2.03],[0.46,2.03],[0.39,1.88],[0.12,1.95],[0.14,1.75],[0.18,1.59],[0.82,1.95],[0.99,1.87],[1.18,1.92],[1.2,1.61],[1.1,1.53],[0.36,1.62],[0.54,1.7],[0.58,1.61],[0.64,1.7],[0.32,1.43],[0.4,1.41],[0.59,1.43],[0.67,1.39],[1.8,1.62],[1.57,1.36],[0.16,1.26],[0.26,1.31],[0.33,1.16],[0.43,1.23],[0.51,1.09],[0.6,1.01],[0.64,0.93],[0.86,1.11],[0.88,0.96],[1.1,0.77],[1.09,0.62],[1.48,0.78],[0.14,1.01],[0.21,0.91],[0.28,0.82],[0.36,1.01],[0.48,0.72],[0.55,0.62],[0.72,0.72],[0.74,0.42],[0.09,0.62],[0.19,0.47],[0.26,0.57],[0.33,0.42],[0.4,0.52],[0.5,0.37],[0.6,0.27],[0.67,0.17],[0.94,0.12],[1.05,-0.42],[0.99,-0.59],[1.3,-0.1],[0.09,0.22],[0.16,0.07],[0.24,0.17],[0.31,0.02],[0.38,0.12],[0.45,-0.02],[0.52,0.07],[0.62,-0.07],[0.72,0.02],[0.12,-0.17],[0.19,-0.27],[0.27,-0.12],[0.36,-0.32],[0.43,-0.17],[0.51,-0.37],[0.6,-0.22],[0.69,-0.32],[0.81,-0.32],[0.91,-0.37],[0.12,-0.47],[0.19,-0.62],[0.26,-0.52],[0.33,-0.67],[0.42,-0.57],[0.5,-0.72],[0.57,-0.57],[0.64,-0.62],[0.74,-0.57],[0.84,-0.67],[0.1,-0.82],[0.18,-0.92],[0.26,-0.87],[0.36,-0.92],[0.43,-0.87],[0.52,-0.87],[0.64,-0.77],[0.76,-0.67],[0.12,-1.06],[0.21,-1.01],[0.3,-1.06],[0.27,-1.31],[0.14,-1.34],[0.89,-1.04],[0.89,-1.33],[0.77,-1.5],[1.0,-1.61],[0.88,-1.73],[0.62,-1.71],[0.61,-1.8],[0.56,-1.93],[0.15,0.4],[0.22,0.3],[0.3,0.65],[0.42,0.3],[0.14,-0.35],[0.22,-0.45],[0.3,-0.8],[0.4,-0.45],[0.2,-0.75],[0.13,1.4],[0.24,1.1],[0.48,0.9]];
const eGainCore = [[0.11,0.85],[0.15,0.72],[0.2,0.78],[0.25,0.68],[0.31,0.75],[0.35,0.6],[0.41,0.7],[0.46,0.56],[0.11,0.48],[0.16,0.55],[0.21,0.4],[0.27,0.45],[0.32,0.3],[0.37,0.38],[0.43,0.22],[0.48,0.28],[0.55,0.18],[0.12,0.15],[0.18,0.3],[0.23,0.02],[0.28,0.1],[0.34,-0.05],[0.4,0.05],[0.47,-0.1],[0.53,-0.05],[0.58,0.12],[0.11,-0.05],[0.14,-0.25],[0.2,-0.12],[0.25,-0.35],[0.3,-0.22],[0.35,-0.45],[0.41,-0.3],[0.46,-0.5],[0.55,-0.35],[0.6,-0.45],[0.12,-0.6],[0.17,-0.45],[0.22,-0.7],[0.28,-0.55],[0.33,-0.82],[0.38,-0.65],[0.45,-0.78],[0.5,-0.6],[0.56,-0.75],[0.11,-0.95],[0.16,-1.1],[0.21,-0.85],[0.26,-1.0],[0.31,-0.92],[0.36,-1.1],[0.4,-1.0],[0.47,-0.95],[0.12,-1.2],[0.18,-1.25],[0.24,-1.15],[0.3,-1.2],[0.1,0.05],[0.1,-0.35],[0.1,-0.7],[0.1,0.35],[0.13,1.15],[0.19,1.05],[0.27,1.2],[0.38,0.92],[0.44,1.05],[0.52,0.82],[0.58,0.7],[0.62,0.45],[0.66,0.3],[0.7,0.1],[0.66,-0.15],[0.72,-0.5],[0.62,-0.95],[0.68,-0.85],[0.57,-1.1],[0.5,-1.2],[0.43,-1.3],[0.36,-1.35],[0.21,-1.4]];
const eDiploid = [[-0.03,4.67],[0,3.09],[0.01,3.02],[0.08,2.97],[0.01,2.59],[0,2.22],[0.04,2.15],[0.08,2.2],[-0.01,2.02],[0.01,1.92],[0.04,2.05],[0,1.75],[-0.03,1.51],[0.01,1.49],[0.04,1.53],[0.03,1.16],[-0.02,0.91],[0,0.81],[0.02,0.86],[-0.02,0.72],[-0.06,0.57],[-0.03,0.52],[0.02,0.47],[0,0.42],[-0.05,0.32],[-0.01,0.22],[0.02,0.12],[-0.03,0.03],[0.01,-0.07],[-0.1,-0.07],[-0.05,-0.17],[0,-0.27],[-0.03,-0.42],[0.02,-0.52],[-0.05,-0.62],[0,-0.72],[-0.03,-0.87],[0.02,-0.96],[-0.04,-1.11],[0,-1.26],[0.02,-1.36],[0.05,-1.41],[-0.05,-1.58],[-0.05,-1.78],[0.03,0.65],[-0.01,0.37],[0.04,0.27],[0.02,-0.17],[0.04,-0.35],[-0.02,-0.55],[0.03,-0.8],[0.01,-1.05],[-0.02,-1.2],[0.02,1.0],[-0.01,1.3],[0.04,-0.65],[0.01,-0.45],[-0.02,0.1]];
const eDiploidCore = [[-0.04,-1.22],[0.0,-1.15],[0.04,-1.25],[-0.02,-1.02],[0.03,-0.98],[-0.05,-0.92],[0.01,-0.88],[-0.03,-0.78],[0.04,-0.74],[-0.01,-0.68],[0.02,-0.6],[-0.04,-0.5],[0.0,-0.45],[0.04,-0.4],[-0.02,-0.32],[0.02,-0.24],[-0.05,-0.28],[0.0,-0.12],[0.04,-0.08],[-0.03,-0.02],[0.02,0.02],[-0.05,0.08],[0.0,0.16],[0.04,0.2],[-0.02,0.28],[0.02,0.35],[-0.04,0.4],[0.01,0.5],[0.04,0.55],[-0.02,0.6],[0.0,0.7],[0.03,0.76],[-0.03,0.82],[0.01,0.95],[-0.01,1.08],[0.02,1.25],[-0.02,1.4],[0.03,1.65],[-0.01,1.85],[0.0,2.1],[-0.04,-0.62],[0.05,-0.55],[-0.06,-0.2],[0.05,0.08],[-0.06,0.45],[0.05,0.4],[0.02,-1.1],[-0.02,-1.3],[0.03,-0.35],[-0.01,-0.95],[0.01,0.25],[-0.03,0.18],[0.05,-0.85],[-0.05,-1.05],[0.01,-1.4],[-0.02,0.92],[0.04,0.98],[-0.04,0.65],[0.0,-0.58],[0.02,-0.8]];
const eShallow = [[-0.21,0.83],[-0.31,0.4],[-0.37,0.15],[-0.24,-0.07],[-0.2,-0.09],[-0.32,-0.17],[-0.11,-0.09],[-0.56,-0.47],[-0.43,-0.42],[-0.39,-0.65],[-0.32,-0.59],[-0.11,-0.55],[-0.13,-0.77],[-0.28,-0.77],[-0.25,-0.87],[-0.21,-0.98],[-0.17,-0.96],[-0.79,-1.1],[-0.55,-1.16],[-0.45,-1.08],[-0.39,-1.14],[-0.35,-1.21],[-0.46,-1.26],[-0.3,-1.06],[-0.32,-1.24],[-0.13,-1.11],[-0.15,-1.2],[-0.2,-1.25],[-0.1,-1.0],[-0.18,-0.6],[-0.08,-0.35],[-0.27,-1.28],[-0.4,-1.22],[-0.5,-0.8],[-0.6,-1.2],[-0.23,0.1]];
const eFit = [0.9, -0.09, -0.79, 3.34];
const eStats = ['Spearman: 0.28', '(p = 1.29e-10)', 'Pearson: 0.33', '(p = 3.16e-14)', 'y = 0.9x + -0.09', '0.11'];
const eXTicks = [-1, -0.5, 0, 0.5, 1, 1.5, 2, 2.5, 3, 3.5];
const eYTicks = [-2, 0, 2, 4, 6, 8];
const eXRange = [-1.23, 3.785];
const eYRange = [-2.99, 9.43];

// ---- F: PXMP4 / LUAD ----
const fAmp = [[0.58,-0.26],[1.23,-0.22],[0.66,-0.69],[1.55,-0.71],[2.55,-1.06]];
const fGain = [[0.69,5.01],[0.27,4.16],[0.16,4.01],[0.88,3.77],[0.57,3.41],[0.52,3.15],[0.16,2.8],[0.59,2.43],[0.91,2.39],[0.28,2.38],[0.46,2.36],[0.19,2.2],[0.28,2.11],[0.36,2.21],[0.26,1.89],[0.74,1.9],[0.93,1.55],[0.39,1.52],[0.1,1.46],[0.24,1.42],[0.52,1.42],[0.48,1.32],[0.22,1.24],[0.29,1.14],[0.2,1.08],[0.13,1.04],[0.11,0.94],[0.15,0.94],[0.38,1.03],[0.45,0.94],[0.54,0.86],[0.63,0.85],[0.17,0.75],[0.34,0.75],[0.4,0.72],[0.16,0.6],[0.16,0.53],[0.22,0.52],[0.29,0.5],[0.39,0.5],[0.52,0.6],[0.6,0.52],[0.62,0.53],[0.1,0.35],[0.12,0.29],[0.27,0.32],[0.28,0.22],[0.28,0.16],[0.59,0.27],[0.71,0.19],[0.87,0.29],[1.21,0.28],[0.36,0.12],[0.74,0.07],[0.83,-0.02],[1.06,0.08],[0.12,0.07],[0.17,0.01],[0.23,0.04],[0.29,-0.04],[0.35,0.01],[0.43,0.01],[0.52,0.01],[0.64,-0.04],[0.7,-0.18],[0.1,-0.12],[0.16,-0.18],[0.21,-0.15],[0.27,-0.21],[0.33,-0.15],[0.41,-0.21],[0.48,-0.18],[0.56,-0.15],[0.1,-0.3],[0.14,-0.37],[0.21,-0.3],[0.26,-0.4],[0.33,-0.34],[0.41,-0.43],[0.48,-0.37],[0.54,-0.46],[0.1,-0.52],[0.16,-0.58],[0.21,-0.52],[0.27,-0.62],[0.33,-0.55],[0.41,-0.62],[0.5,-0.58],[0.56,-0.52],[0.1,-0.68],[0.17,-0.74],[0.23,-0.71],[0.33,-0.8],[1.07,-0.58],[0.12,-0.9],[0.17,-0.86],[0.25,-0.96],[0.39,-0.8],[0.5,-0.86],[0.5,-1.02],[0.71,-0.75],[0.93,-0.8],[0.16,-1.11],[0.22,-1.14],[0.31,-1.14],[0.3,-1.23],[0.35,-1.21],[0.43,-1.24],[0.65,-1.08],[0.67,-1.16],[0.72,-1.14],[0.62,-1.27],[1.04,-1.0],[1.05,-1.16],[1.09,-1.21],[0.13,-0.45],[0.18,-0.65],[0.13,-0.2],[0.19,-0.05],[0.24,-0.45],[0.14,-0.78],[0.2,-0.95],[0.3,-0.5],[0.11,-1.0],[0.37,-0.3]];
const fGainCore = [[0.09,-1.2],[0.13,-1.15],[0.18,-1.05],[0.1,-0.98],[0.15,-0.95],[0.22,-0.85],[0.09,-0.82],[0.13,-0.7],[0.19,-0.78],[0.25,-0.7],[0.09,-0.6],[0.15,-0.5],[0.22,-0.62],[0.28,-0.5],[0.09,-0.4],[0.12,-0.3],[0.18,-0.42],[0.24,-0.3],[0.3,-0.3],[0.09,-0.2],[0.15,-0.1],[0.2,-0.22],[0.26,-0.08],[0.32,-0.05],[0.09,0.0],[0.13,0.12],[0.2,0.15],[0.12,0.45],[0.09,0.7],[0.36,-0.6],[0.4,-0.72],[0.35,-0.9],[0.42,-1.0],[0.28,-1.08],[0.38,-1.12],[0.45,-0.3],[0.4,-0.1],[0.46,-0.55],[0.52,-0.7],[0.55,-0.3],[0.6,-0.6],[0.62,-0.9],[0.58,-1.05],[0.5,-1.15],[0.25,-1.2],[0.16,-1.25],[0.11,-1.05],[0.11,-0.55],[0.11,-0.15],[0.17,-0.6],[0.2,-0.9],[0.23,-0.45],[0.27,-0.2],[0.3,-0.75],[0.33,-0.4],[0.14,0.3],[0.24,0.6],[0.34,0.4],[0.44,0.2],[0.2,-0.05]];
const fDiploid = [[-0.04,5.19],[-0.03,4.44],[-0.01,4.27],[-0.02,3.96],[-0.02,3.12],[0.05,2.82],[-0.06,2.64],[0.05,2.51],[-0.02,2.34],[-0.04,2.03],[-0.01,2.07],[0.08,1.9],[0.01,1.87],[-0.07,1.78],[-0.01,1.76],[0.06,1.72],[-0.09,1.65],[-0.03,1.57],[0.03,1.55],[-0.04,1.45],[-0.05,1.36],[-0.08,1.2],[-0.02,1.19],[0.03,1.22],[-0.04,1.14],[-0.1,0.91],[-0.03,0.89],[0,0.85],[-0.04,0.72],[0.02,0.75],[-0.02,0.63],[-0.06,0.53],[0,0.5],[0.04,0.57],[-0.04,0.41],[0.02,0.35],[-0.06,0.29],[0,0.22],[-0.1,0.22],[-0.02,0.13],[-0.06,0.07],[0.02,0.01],[-0.04,-0.06],[0,-0.15],[-0.06,-0.21],[0.02,-0.27],[-0.03,-0.37],[-0.08,-0.43],[0.01,-0.46],[-0.04,-0.55],[0.02,-0.65],[-0.06,-0.71],[-0.02,-0.8],[0.04,-0.86],[-0.08,-0.93],[0,-0.99],[-0.06,-1.08],[0.02,-1.14],[-0.03,-1.21],[0,-1.25],[-0.07,-1.21],[0.01,0.8],[0.03,0.45],[-0.01,0.32],[0.03,0.1],[-0.01,-0.1],[0.04,-0.35],[-0.01,-0.6],[0.04,-0.7],[-0.02,-0.9],[0.03,-1.05],[-0.01,-1.18],[0.06,-0.2],[0.05,-0.5],[-0.03,0.0]];
const fDiploidCore = [[-0.04,-1.25],[0.02,-1.2],[-0.02,-1.1],[0.04,-1.05],[-0.05,-0.98],[0.0,-0.92],[0.03,-0.84],[-0.03,-0.76],[0.01,-0.68],[-0.05,-0.62],[0.04,-0.58],[-0.01,-0.5],[0.02,-0.4],[-0.04,-0.32],[0.01,-0.24],[0.04,-0.12],[-0.03,-0.14],[0.0,-0.04],[-0.05,0.04],[0.03,0.06],[0.0,0.16],[-0.03,0.26],[0.04,0.3],[0.0,0.4],[-0.04,0.5],[0.03,0.62],[-0.01,0.68],[0.02,0.88],[-0.02,0.95],[0.0,1.05],[-0.05,-1.15],[0.05,-0.95],[-0.06,-0.5],[0.05,-0.3],[-0.06,0.15],[0.05,0.45],[0.01,-1.0],[-0.02,-0.85],[0.02,-0.55],[-0.01,-0.2],[0.01,0.05],[-0.02,0.35],[0.02,-0.72],[-0.03,-1.02],[0.03,-1.12],[-0.04,-0.42],[0.03,-0.18],[-0.01,0.58],[0.04,0.78],[-0.04,0.85],[0.0,-0.62],[0.01,-0.36],[-0.02,-0.66],[0.0,0.26],[0.02,0.12],[-0.01,-1.22],[0.05,-1.18],[-0.06,-0.8],[0.06,-0.65],[0.0,0.78]];
const fShallow = [[-0.6,3.57],[-0.12,1.93],[-0.21,1.86],[-0.41,1.57],[-0.33,1.28],[-0.59,1.14],[-0.77,0.75],[-0.5,0.52],[-0.43,0.54],[-0.23,0.53],[-0.4,0.35],[-0.78,0.3],[-0.75,0.15],[-0.36,0.15],[-0.12,0.24],[-0.66,-0.06],[-0.66,-0.11],[-0.41,-0.06],[-0.26,-0.04],[-0.23,-0.06],[-0.17,0.02],[-0.13,0.01],[-0.2,-0.18],[-0.17,-0.15],[-0.14,-0.27],[-0.27,-0.24],[-0.23,-0.34],[-0.26,-0.4],[-0.23,-0.46],[-0.33,-0.46],[-0.34,-0.52],[-0.45,-0.5],[-0.21,-0.55],[-0.27,-0.65],[-0.25,-0.71],[-0.36,-0.71],[-0.26,-0.77],[-0.16,-0.65],[-0.52,-0.85],[-0.54,-0.9],[-0.15,-0.86],[-0.14,-0.91],[-0.13,-1.0],[-0.17,-0.8],[-0.31,-1.05],[-0.57,-1.11],[-0.35,-1.18],[-0.34,-1.24],[-0.32,-1.21],[-0.23,-1.24],[-0.17,-1.24],[-0.12,-0.5],[-0.15,-0.38],[-0.18,-0.55],[-0.12,-0.2],[-0.16,-1.05],[-0.13,-1.12],[-0.19,-0.9],[-0.22,-0.85],[-0.28,-0.9],[-0.24,-1.05],[-0.3,-0.6],[-0.38,-0.3],[-0.45,-0.15],[-0.48,-0.7],[-0.55,-0.55],[-0.62,-0.95],[-0.7,-0.25],[-0.14,0.1],[-0.11,-0.75],[-0.2,-1.2]];
const fFit = [0.06, -0.05, -0.77, 2.55];
const fStats = ['Spearman: -0.03', '(p = 0.523)', 'Pearson: 0.02', '(p = 0.674)', 'y = 0.06x + -0.05', '0'];
const fXTicks = [-1, -0.5, 0, 0.5, 1, 1.5, 2, 2.5];
const fYTicks = [-1, 0, 1, 2, 3, 4, 5];
const fXRange = [-1.136, 2.925];
const fYRange = [-1.93, 5.71];

// categories, colours, draw order (first listed = drawn on top)
const categories = ['amp', 'gain', 'diploid', 'shallow', 'deep'];
const catNames = { amp: 'Amplification', gain: 'Gain', diploid: 'Diploid', shallow: 'Shallow Deletion', deep: 'Deep Deletion' };
const catColours = { amp: '#e8000e', gain: '#f48a9a', diploid: '#bcbcbc', shallow: '#2cc6c8', deep: '#0000e0' };
const drawOrder = ['deep', 'amp', 'gain', 'shallow', 'diploid'];
const fitColour = '#bd3a2f';

// panel layout in page pixels: plot box = [left, top, right, bottom]
const panels = [
  { letter: 'A', gene: 'HSD17B4', tag: 'LUSC',
    series: { gain: aGain, diploid: aDiploid.concat(aDiploidCore), shallow: aShallow.concat(aShallowCore), deep: aDeep },
    fit: aFit, stats: aStats, xTicks: aXTicks, yTicks: aYTicks, xRange: aXRange, yRange: aYRange,
    plot: [132, 88, 873, 831], letterAt: [6, 22], statRight: 1051, statTop: 124, dashX: 862,
    tagAt: [850, 811], xTitleAt: [485, 891], yTitleAt: [78, 469] },
  { letter: 'C', gene: 'ACAA1', tag: 'LUSC',
    series: { amp: cAmp, gain: cGain, diploid: cDiploid.concat(cDiploidCore), shallow: cShallow.concat(cShallowCore), deep: cDeep },
    fit: cFit, stats: cStats, xTicks: cXTicks, yTicks: cYTicks, xRange: cXRange, yRange: cYRange,
    plot: [1252, 88, 1992, 828], letterAt: [1139, 23], statRight: 2159, statTop: 121, dashX: 1968,
    tagAt: [1960, 808], xTitleAt: [1618, 888], yTitleAt: [1192, 448] },
  { letter: 'E', gene: 'PXMP4', tag: 'LUSC',
    series: { amp: eAmp, gain: eGain.concat(eGainCore), diploid: eDiploid.concat(eDiploidCore), shallow: eShallow },
    fit: eFit, stats: eStats, xTicks: eXTicks, yTicks: eYTicks, xRange: eXRange, yRange: eYRange,
    plot: [2367, 88, 3110, 828], letterAt: [2253, 23], statRight: 3270, statTop: 129, dashX: 3081,
    tagAt: [3083, 808], xTitleAt: [2738, 885], yTitleAt: [2307, 466] },
  { letter: 'B', gene: 'HSD17B4', tag: 'LUAD',
    series: { amp: bAmp, gain: bGain.concat(bGainCore), diploid: bDiploid.concat(bDiploidCore), shallow: bShallow.concat(bShallowCore), deep: bDeep },
    fit: bFit, stats: bStats, xTicks: bXTicks, yTicks: bYTicks, xRange: bXRange, yRange: bYRange,
    plot: [131, 974, 876, 1717], letterAt: [4, 928], statRight: 1042, statTop: 1010, dashX: 853,
    tagAt: [857, 1697], xTitleAt: [513, 1779], yTitleAt: [74, 1333] },
  { letter: 'D', gene: 'ACAA1', tag: 'LUAD',
    series: { gain: dGain, diploid: dDiploid.concat(dDiploidCore), shallow: dShallow.concat(dShallowCore), deep: dDeep },
    fit: dFit, stats: dStats, xTicks: dXTicks, yTicks: dYTicks, xRange: dXRange, yRange: dYRange,
    plot: [1254, 980, 2006, 1716], letterAt: [1139, 928], statRight: 2159, statTop: 1020, dashX: 1968,
    tagAt: [1982, 1700], xTitleAt: [1634, 1775], yTitleAt: [1201, 1346] },
  { letter: 'F', gene: 'PXMP4', tag: 'LUAD',
    series: { amp: fAmp, gain: fGain.concat(fGainCore), diploid: fDiploid.concat(fDiploidCore), shallow: fShallow },
    fit: fFit, stats: fStats, xTicks: fXTicks, yTicks: fYTicks, xRange: fXRange, yRange: fYRange,
    plot: [2386, 993, 3132, 1716], letterAt: [2253, 928], statRight: 3278, statTop: 1021, dashX: 3088,
    tagAt: [3111, 1700], xTitleAt: [2733, 1779], yTitleAt: [2332, 1346] }
];

const tickFont = { family: "'Liberation Serif', 'Times New Roman', serif", size: 37, weight: 'bold', lineHeight: 1 };
const LABEL_W = 90, LABEL_H = 70, PAD = 30;

function addText(cls, html, left, top) {
  const el = document.createElement('div');
  el.className = 'txt ' + cls;
  el.innerHTML = html;
  el.style.left = left + 'px';
  el.style.top = top + 'px';
  document.body.appendChild(el);
  return el;
}

function axis(ticks, range, fixSize) {
  return {
    type: 'linear',
    min: range[0],
    max: range[1],
    afterBuildTicks: s => { s.ticks = ticks.map(v => ({ value: v })); },
    afterFit: fixSize,
    ticks: { font: tickFont, color: '#000', padding: 2, callback: v => String(v) },
    grid: { color: '#e3e3e3', lineWidth: 1.3, tickColor: '#000', tickWidth: 2, tickLength: 7 },
    border: { display: true, color: '#000', width: 4, dash: [7, 5] }
  };
}

panels.forEach(p => {
  const [x0, y0, x1, y1] = p.plot;
  const L = x0 - LABEL_W, T = y0 - PAD;
  const W = x1 + PAD - L, H = y1 + LABEL_H - T;
  const canvas = document.createElement('canvas');
  canvas.width = W; canvas.height = H;
  canvas.style.left = L + 'px'; canvas.style.top = T + 'px';
  canvas.style.width = W + 'px'; canvas.style.height = H + 'px';
  document.body.appendChild(canvas);

  const [m, b, fx0, fx1] = p.fit;
  const datasets = [{
    type: 'line',
    data: [{ x: fx0, y: m * fx0 + b }, { x: fx1, y: m * fx1 + b }],
    borderColor: fitColour, borderWidth: 3.5, pointRadius: 0, fill: false
  }];
  drawOrder.filter(c => p.series[c]).forEach(c => {
    datasets.push({
      label: catNames[c],
      data: p.series[c].map(([x, y]) => ({ x, y })),
      pointStyle: 'circle', pointRadius: 4.9, borderWidth: 2.4,
      borderColor: catColours[c], backgroundColor: 'rgba(0,0,0,0)'
    });
  });

  new Chart(canvas, {
    type: 'scatter',
    data: { datasets },
    options: {
      responsive: false, animation: false, devicePixelRatio: 1,
      layout: { padding: { left: 0, top: PAD, right: PAD, bottom: 0 } },
      plugins: { legend: { display: false }, tooltip: { enabled: false } },
      scales: {
        x: axis(p.xTicks, p.xRange, s => { s.height = LABEL_H; }),
        y: axis(p.yTicks, p.yRange, s => { s.width = LABEL_W; })
      }
    }
  });

  // panel letter, cohort tag, axis titles
  addText('letter', p.letter, p.letterAt[0], p.letterAt[1]);
  addText('tag', p.tag, p.tagAt[0], p.tagAt[1] - 67);
  addText('atitle', p.gene + ': Relative linear copy-number values', p.xTitleAt[0], p.xTitleAt[1]);
  addText('atitle ytitle', p.gene + ': mRNA Expression z-Scores (RNA Seq V2 RSEM)', p.yTitleAt[0], p.yTitleAt[1]);

  // correlation statistics
  const s = p.stats, y = p.statTop;
  addText('stat', s[0], p.statRight, y);
  addText('stat', s[1], p.statRight, y + 41);
  addText('stat', s[2], p.statRight, y + 99);
  addText('stat', s[3], p.statRight, y + 138);
  const dash = document.createElement('div');
  dash.className = 'dash';
  dash.style.background = fitColour;
  dash.style.left = p.dashX + 'px';
  dash.style.top = (y + 187 - 2.5) + 'px';
  document.body.appendChild(dash);
  addText('lab', s[4], p.dashX + 34, y + 187);
  addText('lab', 'R<span class="sup">2</span> = ' + s[5], p.dashX + 34, y + 226);

  // category legend
  categories.filter(c => p.series[c]).forEach((c, i) => {
    const cy = y + 290 + i * 56;
    const dot = document.createElement('div');
    dot.className = 'dot';
    dot.style.borderColor = catColours[c];
    dot.style.left = (p.dashX + 6) + 'px';
    dot.style.top = cy + 'px';
    document.body.appendChild(dot);
    addText('lab', catNames[c], p.dashX + 34, cy);
  });
});
</script>
</body>
</html>
